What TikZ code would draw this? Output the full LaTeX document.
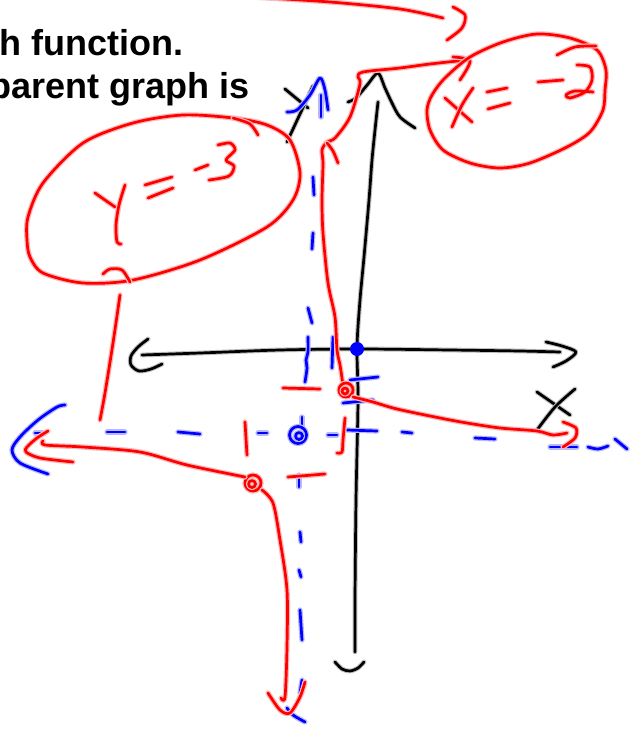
\documentclass[tikz,border=0pt]{standalone}
\usepackage{fontspec}
\setmainfont{Liberation Sans}
\tikzset{
  pen/.style={line width=2.7pt, line cap=round, line join=round},
  rd/.style={pen, draw=red, preaction={draw=red!28, line width=5.2pt, line cap=round, line join=round}},
  bk/.style={pen, draw=black, preaction={draw=black!25, line width=4.8pt, line cap=round, line join=round}},
  bl/.style={pen, draw=blue, preaction={draw=blue!28, line width=5.2pt, line cap=round, line join=round}},
  head/.style={font=\bfseries\fontsize{36}{40}\selectfont, inner sep=0pt, anchor=base east}
}
\begin{document}
\begin{tikzpicture}[x=1pt,y=-1pt]
\useasboundingbox (0,0) rectangle (636,731);
\clip (0,0) rectangle (636,731);
\fill[white] (0,0) rectangle (636,731);

% heading text
\node[head] (t1) at (184,55) {h function.};
\node[head] (t2) at (250,98) {parent graph is};

% ---------- black axes ----------
\draw[bk] plot[smooth] coordinates {(142,355) (200,353) (280,350) (360,349) (450,350) (520,351) (560,352)};
\draw[bk] plot[smooth] coordinates {(148,339) (138,347) (131,356) (131,365) (139,371) (151,369) (162,364)};
\draw[bk] plot[smooth] coordinates {(546,342) (562,346) (576,352) (566,361) (553,367)};
\draw[bk] plot[smooth] coordinates {(378,102) (375,130) (372,160) (369,200) (364,257) (360,300) (357,347) (358,400) (356,500) (355,600) (355,652)};
\draw[bk] plot[smooth] coordinates {(348,102) (353,100) (358,96) (368,84) (378,73) (385,88) (392,103) (400,117) (415,128)};
\draw[bk] plot[smooth] coordinates {(335,662) (342,669) (350,671) (358,668) (364,662)};
% y label
\draw[bk] (285,89) -- (308,108);
\draw[bk] (313,86) -- (287,142);
% x label
\draw[bk] (537,392) -- (570,415);
\draw[bk] plot[smooth] coordinates {(575,389) (555,407) (537,430)};
% origin dot
\fill[blue] (357,349) circle[radius=7pt];

% ---------- blue asymptotes ----------
\draw[bl] plot[smooth] coordinates {(287,112) (297,110) (310,95) (320,78) (325,90) (328,110)};
\draw[bl] (321,95) -- (321,117);
\draw[bl] (313,177) -- (314,195);
\draw[bl] (313,233) -- (312,249);
\draw[bl] (308,308) -- (312,323);
\draw[bl] plot[smooth] coordinates {(308,337) (308,352) (306,360) (307,368) (305,382)};
\draw[bl] (333,337) -- (332,368);
\draw[bl] (350,380) -- (378,377);
\draw[bl] (343,403) -- (373,400);
\draw[bl] (302,417) -- (302,427);
\draw[bl] (299,475) -- (299,487);
\draw[bl] (300,532) -- (301,542);
\draw[bl] (299,570) -- (301,577);
\draw[bl] (300,610) -- (302,640);
\draw[bl] (302,680) -- (300,693);
\draw[bl] plot[smooth] coordinates {(287,708) (293,715) (305,722)};
% horizontal dashes
\draw[bl] (35,433) -- (45,433);
\draw[bl] (107,432) -- (125,432);
\draw[bl] (178,432) -- (200,434);
\draw[bl] (258,433) -- (267,433);
\draw[bl] (328,435) -- (337,435);
\draw[bl] (347,430) -- (377,431);
\draw[bl] (402,432) -- (412,433);
\draw[bl] (475,438) -- (495,439);
\draw[bl] (550,447) -- (577,447);
\draw[bl] plot[smooth] coordinates {(588,447) (598,449) (608,446)};
\draw[bl] (615,439) -- (627,449);
\draw[bl] plot[smooth] coordinates {(65,405) (57,407) (38,420) (20,437) (12,450) (20,463) (48,474)};
% centre circle
\draw[bl] (298,435) circle[radius=8.5pt];
\draw[bl] (299,436) circle[radius=3.5pt];

% ---------- red graph ----------
\draw[rd] plot[smooth] coordinates {(250,-3) (330,2) (400,9) (443,18)};
\draw[rd] plot[smooth] coordinates {(453,7) (465,15) (462,28) (447,40)};
\draw[rd] plot[smooth] coordinates {(467,60) (430,64) (400,68) (363,72) (358,77) (360,84) (350,117) (335,138) (327,142) (322,150) (323,163) (322,200) (323,233) (328,283) (335,317) (337,350) (340,365) (343,385)};
\draw[rd] plot[smooth] coordinates {(327,143) (333,151) (338,163)};
\draw[rd] plot[smooth] coordinates {(453,57) (470,61) (460,80)};
\draw[rd] (346,390) circle[radius=7pt];
\draw[rd] (345,391) circle[radius=3pt];
\draw[rd] plot[smooth] coordinates {(353,397) (373,402) (397,409) (440,418) (467,423) (500,428) (537,431) (553,435) (567,433)};
\draw[rd] plot[smooth] coordinates {(563,422) (576,428) (575,438) (563,447)};
\draw[rd] (253,483) circle[radius=8pt];
\draw[rd] (252,484) circle[radius=3.5pt];
\draw[rd] plot[smooth] coordinates {(245,477) (187,465) (140,452) (83,447) (45,445) (43,441)};
\draw[rd] plot[smooth] coordinates {(48,431) (37,438) (27,447) (26,452) (40,458) (73,462)};
\draw[rd] plot[smooth] coordinates {(262,490) (273,503) (280,540) (287,590) (287,647) (285,697) (281,698)};
\draw[rd] plot[smooth] coordinates {(268,693) (280,710) (290,713) (300,697) (305,682)};
% red shifted asymptote marks
\draw[rd] (283,388) -- (320,389);
\draw[rd] (245,422) -- (247,455);
\draw[rd] plot[smooth] coordinates {(345,418) (343,440) (342,452) (337,453)};
\draw[rd] (288,477) -- (325,474);
\draw[rd] plot[smooth] coordinates {(120,295) (113,343) (105,393) (100,420)};

% ellipse y = -3
\draw[rd] plot[smooth cycle] coordinates {(27,240) (30,257) (43,273) (83,283) (133,280) (200,260) (267,227) (293,200) (300,173) (290,140) (267,125) (233,118) (183,115) (133,123) (83,143) (43,183) (28,217)};
\draw[rd] plot[smooth] coordinates {(233,118) (250,124) (258,135)};
\draw[rd] plot[smooth] coordinates {(103,274) (110,269) (122,270) (130,282)};
\draw[rd] (95,193) -- (115,207);
\draw[rd] plot[smooth] coordinates {(125,185) (119,205) (116,225) (117,242) (121,244)};
\draw[rd] (145,185) -- (172,177);
\draw[rd] (148,198) -- (173,188);
\draw[rd] (195,170) -- (208,165);
\draw[rd] plot[smooth] coordinates {(218,145) (230,143) (235,150) (226,160) (234,166) (229,176) (209,180)};

% ellipse x = -2
\draw[rd] plot[smooth cycle] coordinates {(470,57) (503,42) (537,34) (570,38) (597,50) (606,70) (605,90) (603,110) (590,132) (567,147) (530,163) (500,168) (470,163) (443,150) (430,130) (427,110) (432,95) (445,78)};
\draw[rd] plot[smooth] coordinates {(557,55) (575,47) (596,46)};
\draw[rd] (445,98) -- (472,122);
\draw[rd] plot[smooth] coordinates {(473,88) (462,105) (452,127)};
\draw[rd] (487,92) -- (507,88);
\draw[rd] (488,109) -- (510,103);
\draw[rd] (538,82) -- (563,80);
\draw[rd] plot[smooth] coordinates {(577,65) (590,67) (592,80) (585,92) (570,98) (566,95) (575,91) (593,92)};
\end{tikzpicture}
\end{document}
